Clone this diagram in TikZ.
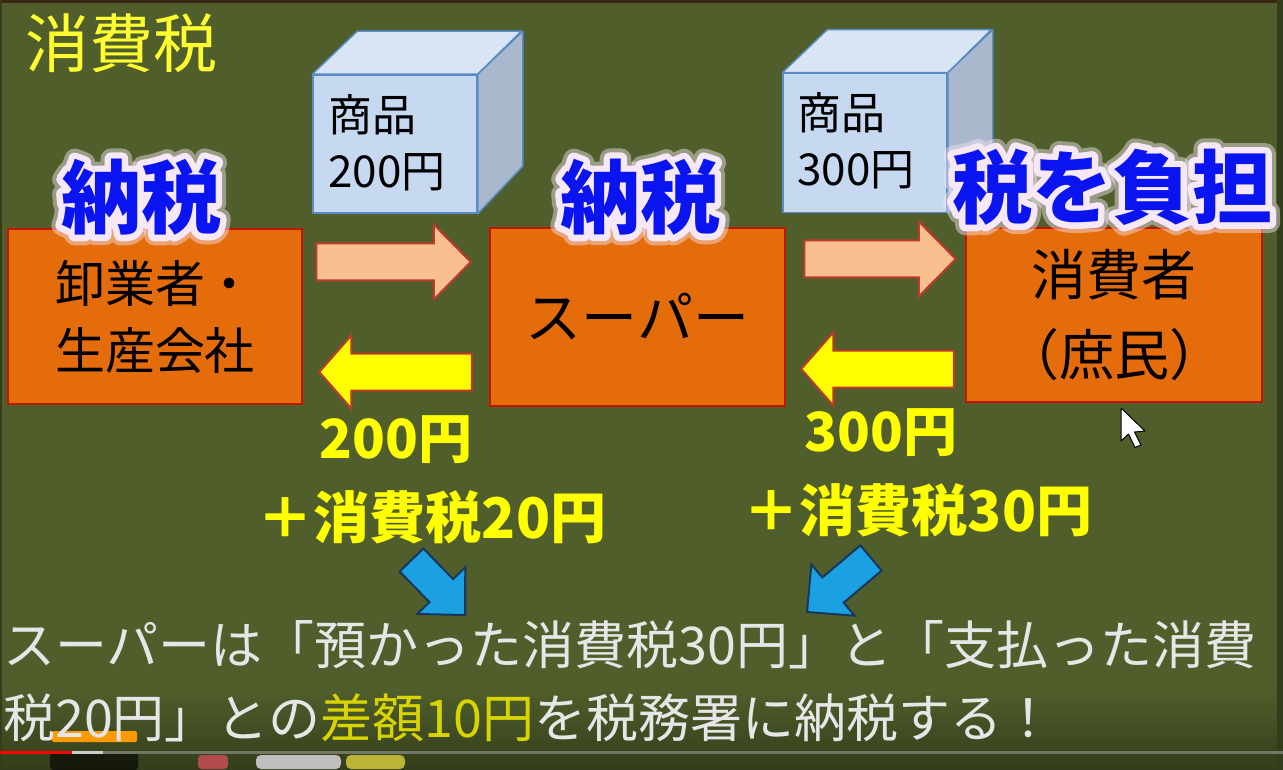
\documentclass[tikz,border=0pt]{standalone}
\usepackage{fontspec}
\setmainfont{Noto Sans CJK JP}
\usetikzlibrary{calc}
\definecolor{bg}{HTML}{4F5E2B}
\definecolor{bgdark}{HTML}{333D1B}
\definecolor{boxor}{HTML}{E46C0A}
\definecolor{boxred}{HTML}{C01800}
\definecolor{cubefront}{HTML}{C6D9F1}
\definecolor{cubetop}{HTML}{D9E4F5}
\definecolor{cubeside}{HTML}{A9B8CC}
\definecolor{cubeline}{HTML}{5B8BC6}
\definecolor{pinkar}{HTML}{FABF8F}
\definecolor{arline}{HTML}{C0392B}
\definecolor{yel}{HTML}{FFFF00}
\definecolor{titleyel}{HTML}{FFFF30}
\definecolor{bluear}{HTML}{1BA1E2}
\definecolor{bluearline}{HTML}{17375E}
\definecolor{taxblue}{HTML}{0A14F0}
\definecolor{glowc}{HTML}{F6E8F6}
\definecolor{wtext}{HTML}{E6E6E6}
\definecolor{diffyel}{HTML}{D8D400}
\tikzset{
  orbox/.style={draw=boxred, fill=boxor, line width=2.5pt, text=black, align=center},
  cubeface/.style={draw=cubeline, line width=1.5pt, line join=round},
  pinkarrow/.style={draw=arline, fill=pinkar, line width=2pt, line join=miter},
  yelarrow/.style={draw=arline, fill=yel, line width=2pt, line join=miter},
  bluearrow/.style={draw=bluearline, fill=bluear, line width=2pt, line join=miter},
  glowfont/.style={font=\fontsize{80}{90}\selectfont\bfseries, inner sep=0pt},
  yeltext/.style={text=yel, font=\fontsize{56}{60}\selectfont\bfseries, inner sep=0pt},
  cubetext/.style={text=black, font=\fontsize{44}{56}\selectfont, align=left, inner sep=0pt, anchor=west},
  bottomtext/.style={text=wtext, font=\fontsize{52}{60}\selectfont, inner sep=0pt, anchor=west}
}
% block arrow: style, tail, tip, shaft half-width, head half-width, head length
\newcommand\blockarrow[6]{%
  \path ($(#3)!#6!(#2)$) coordinate (ba-neck);
  \draw[#1] ($(#2)!#4!90:(#3)$) -- ($(ba-neck)!#4!90:(#3)$) -- ($(ba-neck)!#5!90:(#3)$) -- (#3)
    -- ($(ba-neck)!#5!-90:(#3)$) -- ($(ba-neck)!#4!-90:(#3)$) -- ($(#2)!#4!-90:(#3)$) -- cycle;}
% glowing blue text: name, position, text
\newcommand\glowtext[3]{%
  \begin{scope}[line join=round, line cap=round]
  \node[glowfont, text=glowc, text opacity=0.45] (#1-g2) at (#2) {\addfontfeature{FakeBold=26}#3};
  \node[glowfont, text=glowc] (#1-g1) at (#2) {\addfontfeature{FakeBold=16}#3};
  \end{scope}
  \node[glowfont, text=taxblue] (#1) at (#2) {#3};}
\begin{document}
\begin{tikzpicture}[x=1pt,y=-1pt]
\useasboundingbox (0,0) rectangle (1283,770);
\fill[bg] (0,0) rectangle (1283,770);
\shade[top color=bg, bottom color=bgdark] (0,690) rectangle (1283,770);
\fill[black!70!brown] (0,0) rectangle (1283,3);
\fill[bgdark] (1277,0) rectangle (1283,770);
\fill[bgdark] (0,0) rectangle (2,770);

% title
\node[text=titleyel, font=\fontsize{64}{70}\selectfont, inner sep=0pt] (title) at (121,43) {消費税};

% cubes
\node[cubeface, fill=cubefront, minimum width=164pt, minimum height=138pt, inner sep=0pt] (cube1) at (395,144) {};
\draw[cubeface, fill=cubetop] (cube1.north west) -- ++(45,-43) -- ++(164,0) -- (cube1.north east) -- cycle;
\draw[cubeface, fill=cubeside] (cube1.north east) -- ++(45,-43) -- ++(0,135) -- (cube1.south east) -- cycle;
\node[cubetext] (cube1t) at (328,143) {商品\\200円};

\node[cubeface, fill=cubefront, minimum width=164pt, minimum height=139pt, inner sep=0pt] (cube2) at (865,143) {};
\draw[cubeface, fill=cubetop] (cube2.north west) -- ++(45,-43) -- ++(164,0) -- (cube2.north east) -- cycle;
\draw[cubeface, fill=cubeside] (cube2.north east) -- ++(45,-43) -- ++(0,137) -- (cube2.south east) -- cycle;
\node[cubetext] (cube2t) at (797,141) {商品\\300円};

% orange boxes
\node[orbox, minimum width=294pt, minimum height=175pt, font=\fontsize{50}{67}\selectfont] (whole) at (155,316.5) {卸業者・\\生産会社};
\node[orbox, minimum width=295pt, minimum height=178pt, font=\fontsize{56}{60}\selectfont] (super) at (637.5,317) {スーパー};
\node[orbox, minimum width=296pt, minimum height=174pt, font=\fontsize{55}{80}\selectfont] (cons) at (1114,315) {消費者\\（庶民）};

% glowing labels
\glowtext{nz1}{141,197}{納税}
\glowtext{nz2}{640,197}{納税}
\glowtext{burden}{1112,187}{税を負担}

% horizontal block arrows
\coordinate (p1a) at ($(whole.east)+(13,-54.5)$);
\coordinate (p1b) at ($(super.west)+(-18,-55)$);
\blockarrow{pinkarrow}{p1a}{p1b}{18.5pt}{37.5pt}{37pt}
\coordinate (y1a) at ($(super.west)+(-17,55)$);
\coordinate (y1b) at ($(whole.east)+(16,55.5)$);
\blockarrow{yelarrow}{y1a}{y1b}{18.5pt}{36.5pt}{32pt}
\coordinate (p2a) at ($(super.east)+(18,-58)$);
\coordinate (p2b) at ($(cons.west)+(-9,-56)$);
\blockarrow{pinkarrow}{p2a}{p2b}{18.5pt}{37.5pt}{37pt}
\coordinate (y2a) at ($(cons.west)+(-11,54)$);
\coordinate (y2b) at ($(super.east)+(15,52)$);
\blockarrow{yelarrow}{y2a}{y2b}{18.5pt}{36.5pt}{32pt}

% amounts
\node[yeltext, font=\fontsize{54}{60}\selectfont\bfseries] (amt1) at (396,440) {200円};
\node[yeltext] (tax1) at (432,517) {＋消費税20円};
\node[yeltext, font=\fontsize{54}{60}\selectfont\bfseries] (amt2) at (881,433) {300円};
\node[yeltext] (tax2) at (918,510) {＋消費税30円};

% player overlay bar behind text
\fill[orange!80!yellow, rounded corners=2pt] (52,731) rectangle (137,742);

% diagonal blue arrows
\coordinate (b1a) at (411.5,560);
\coordinate (b1b) at (465,615);
\blockarrow{bluearrow}{b1a}{b1b}{16.5pt}{33.5pt}{34pt}
\coordinate (b2a) at (871,558);
\coordinate (b2b) at (807,612);
\blockarrow{bluearrow}{b2a}{b2b}{16.5pt}{33.5pt}{34pt}

% bottom text
\node[bottomtext] (line1) at (3,645) {スーパーは「預かった消費税30円」と「支払った消費};
\node[bottomtext] (line2) at (3,718) {税20円」との\textcolor{diffyel}{差額10円}を税務署に納税する！};

% video player bar
\fill[black, opacity=0.6, rounded corners=3pt] (50,752) rectangle (138,770);
\fill[gray!70!bg] (0,750.5) rectangle (1283,753.5);
\fill[gray!40] (0,750.5) rectangle (103,753.5);
\fill[red] (0,750.5) rectangle (72,753.5);
\fill[red!40!gray, rounded corners=4pt] (198,755) rectangle (228,769);
\fill[gray!50, rounded corners=5pt] (256,755) rectangle (341,769);
\fill[yellow!70!black, rounded corners=5pt] (346,755) rectangle (405,769);

% mouse cursor
\draw[black, fill=white, line width=1pt, line join=round] (1121,408) -- (1121,441) -- (1128.5,434) -- (1135,447.5) -- (1141,445) -- (1134.5,432) -- (1145,431) -- cycle;
\end{tikzpicture}
\end{document}
